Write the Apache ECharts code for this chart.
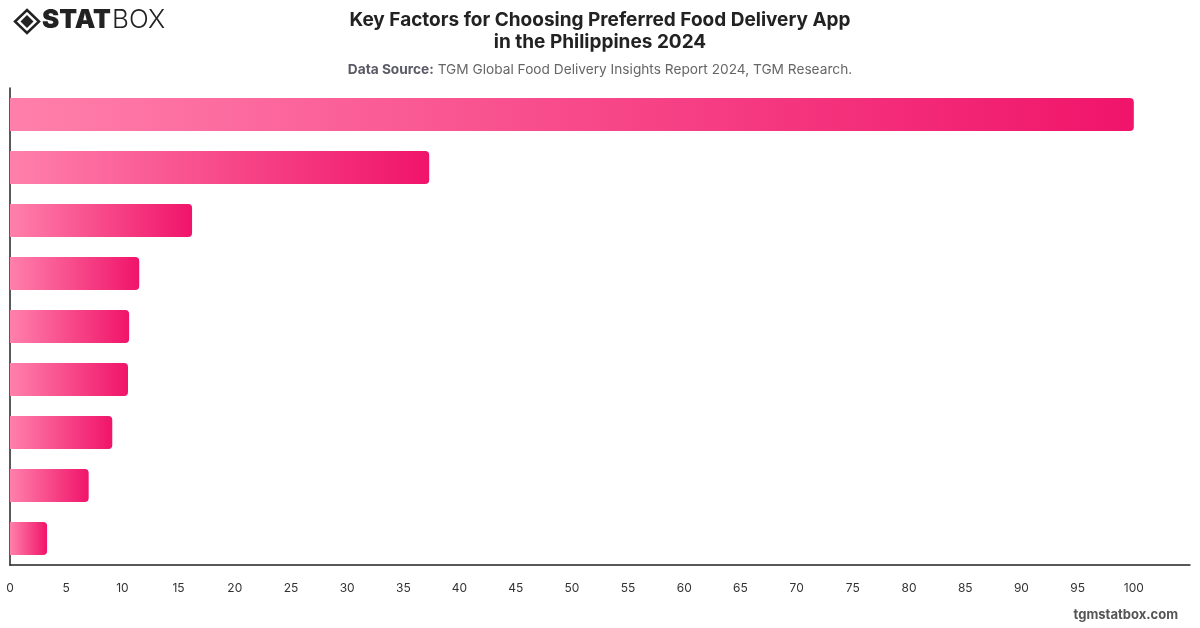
<!DOCTYPE html>
<html>
<head>
<meta charset="utf-8">
<script src="https://cdn.jsdelivr.net/npm/echarts@6/dist/echarts.min.js"></script>
<style>
  html, body { margin: 0; padding: 0; background: #fff; }
  #main { width: 1200px; height: 628px; }
</style>
</head>
<body>
<div id="main"></div>
<script>
// categories are not printed on the chart, top to bottom
let factors = ['Factor 1', 'Factor 2', 'Factor 3', 'Factor 4', 'Factor 5', 'Factor 6', 'Factor 7', 'Factor 8', 'Factor 9'];
let shares = [100, 37.3, 16.2, 11.5, 10.6, 10.5, 9.1, 7.0, 3.3];

let myChart = echarts.init(document.getElementById('main'));

let option = {
  backgroundColor: '#fff',
  textStyle: { fontFamily: 'Inter, "Noto Sans", sans-serif' },
  title: [{
    left: 'center',
    top: 4,
    text: 'Key Factors for Choosing Preferred Food Delivery App\nin the Philippines 2024',
    textStyle: { fontSize: 19, fontWeight: 'bold', color: '#222', lineHeight: 22 }
  }, {
    left: 'center',
    top: 58,
    text: '{b|Data Source:} TGM Global Food Delivery Insights Report 2024, TGM Research.',
    textStyle: {
      fontSize: 13.7, color: '#666', fontWeight: 'normal',
      rich: { b: { fontSize: 13.7, fontWeight: 'bold', color: '#5a5a66' } }
    }
  }],
  graphic: [
    // logo mark
    { type: 'polygon', shape: { points: [[27, 10], [39, 21.5], [27, 33], [15, 21.5]] },
      style: { fill: 'none', stroke: '#222', lineWidth: 2.5 } },
    { type: 'polygon', shape: { points: [[27, 15], [33.5, 21.5], [27, 28], [20.5, 21.5]] },
      style: { fill: '#222' } },
    { type: 'text', left: 42, top: 7,
      style: { text: 'STAT', font: '900 26px Inter, sans-serif', fill: '#222' } },
    { type: 'text', left: 112, top: 7,
      style: { text: 'BOX', font: '300 26px Inter, sans-serif', fill: '#222' } },
    // watermark
    { type: 'text', right: 22, top: 609,
      style: { text: 'tgmstatbox.com', font: 'bold 13px Inter, sans-serif', fill: '#555' } }
  ],
  grid: { left: 10, right: 10, top: 88, bottom: 63, containLabel: false },
  xAxis: {
    type: 'value',
    min: 0,
    max: 105,
    interval: 5,
    splitLine: { show: false },
    axisLine: { show: true, lineStyle: { color: '#222', width: 1.5 } },
    axisTick: { show: false },
    axisLabel: { color: '#333', fontSize: 12, margin: 17, showMaxLabel: false }
  },
  yAxis: {
    type: 'category',
    inverse: true,
    data: factors,
    axisLine: { show: true, lineStyle: { color: '#222', width: 1.5 } },
    axisTick: { show: false },
    axisLabel: { show: false }
  },
  series: [{
    type: 'bar',
    data: shares,
    barWidth: 33,
    itemStyle: {
      borderRadius: [0, 4, 4, 0],
      color: new echarts.graphic.LinearGradient(0, 0, 1, 0, [
        { offset: 0, color: '#ff80ab' },
        { offset: 1, color: '#f0146a' }
      ])
    }
  }]
};

myChart.setOption(option);
</script>
</body>
</html>
